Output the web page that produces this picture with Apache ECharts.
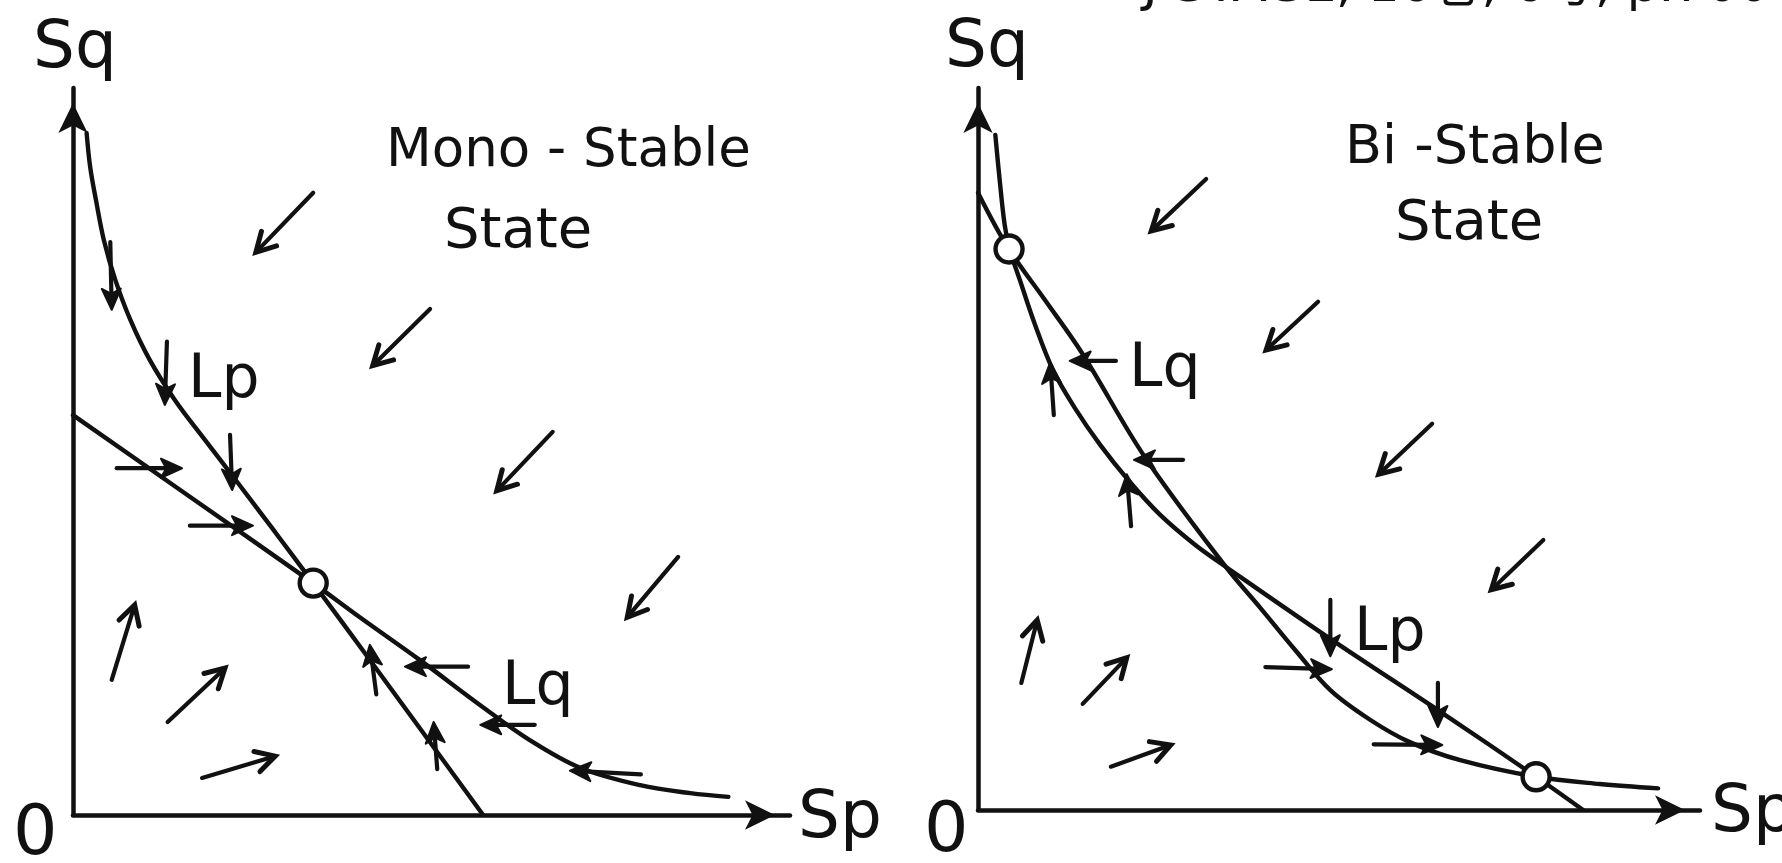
<!DOCTYPE html>
<html>
<head>
<meta charset="utf-8">
<script src="https://cdn.jsdelivr.net/npm/echarts@6/dist/echarts.min.js"></script>
<style>
html,body{margin:0;padding:0;background:#fff;}
#chart{width:1782px;height:863px;}
</style>
</head>
<body>
<div id="chart"></div>
<script>
// ---------- Data (axis units 0..100 in each panel) ----------
// Mono-stable panel
const monoLp = [[1.9,93.8],[2.4,89.1],[3.2,84.6],[4.3,79.1],[5.9,73.6],[8.0,68.1],[10.7,62.6],[14.2,57.1],[18.4,51.6],[22.9,45.8],[28.2,38.9],[33.5,31.9],[42.1,20.4],[57.2,0]];
const monoLq = [[0,55.0],[16.7,43.5],[33.5,31.9],[40.0,27.2],[48.4,21.3],[56.8,15.1],[63.7,10.3],[70.7,6.5],[79.1,4.1],[86.1,3.0],[91.4,2.5]];
const monoFixedPoints = [[33.5,31.9]];
// [tailX, tailY, headX, headY]
const monoFieldArrows = [[33.5,85.6,25.5,77.4],[49.8,69.6,41.8,61.8],[66.9,52.7,59.1,44.6],[84.4,35.5,77.3,27.2],[5.4,18.6,8.6,28.9],[13.2,12.8,21.2,20.2],[18.0,5.1,28.2,8.1]];
const monoLpArrows = [[5.2,78.8,5.4,69.5],[13.1,65.1,12.8,56.4],[21.9,52.3,22.2,44.7],[42.3,16.6,41.4,23.4],[50.8,6.3,50.3,12.8]];
const monoLqArrows = [[6.1,47.7,15.2,47.7],[16.3,39.8,25.1,39.8],[55.1,20.4,46.3,20.4],[64.4,12.4,56.8,12.4],[79.2,5.6,69.3,6.1]];

// Bi-stable panel
const biLq = [[0,85.5],[4.2,77.8],[9.3,70.6],[14.4,63.3],[23.1,48.9],[34.3,33.7],[39.1,28.0],[43.9,22.2],[48.8,16.6],[54.3,12.5],[59.8,9.4],[66.8,6.9],[77.3,4.6],[86.1,3.6],[94.2,3.0]];
const biLp = [[2.4,93.5],[3.0,87.3],[3.7,81.0],[4.4,77.6],[5.8,73.4],[7.9,67.2],[10.4,60.9],[13.4,55.7],[16.9,50.6],[20.8,45.7],[25.2,40.9],[30.1,36.7],[34.3,33.7],[48.8,23.7],[63.9,13.7],[77.3,4.6],[83.8,0]];
const biFixedPoints = [[4.3,77.7],[77.3,4.6]];
const biFieldArrows = [[31.6,87.4,24.0,80.2],[47.1,70.4,39.9,63.7],[62.9,53.5,55.5,46.5],[78.3,37.4,71.1,30.5],[6.0,17.6,8.2,26.3],[14.5,14.7,20.6,21.1],[18.4,6.0,26.7,9.0]];
const biLpArrows = [[10.5,54.7,10.0,62.0],[21.2,39.3,20.6,46.5],[48.8,29.1,48.8,21.3],[63.7,17.6,63.7,11.5]];
const biLqArrows = [[19.1,62.2,12.7,62.2],[28.4,48.5,21.6,48.5],[39.8,19.8,49.0,19.5],[54.8,9.1,64.3,9.0]];

// Text
const headerText = 'J-STAGE, 16巻, 6号, p.700';
const monoTitle = ['Mono - Stable', 'State'];
const biTitle = ['Bi -Stable', 'State'];
const axisNames = {y: 'Sq', x: 'Sp', origin: '0'};
const curveNames = {p: 'Lp', q: 'Lq'};

// ---------- Rendering ----------
const INK = '#111';
const FONT = "'DejaVu Sans', 'Noto Sans CJK JP', sans-serif";

function arrowRenderer(kind) {
  return function (params, api) {
    const p1 = api.coord([api.value(0), api.value(1)]);
    const p2 = api.coord([api.value(2), api.value(3)]);
    const dx = p2[0] - p1[0], dy = p2[1] - p1[1];
    const len = Math.hypot(dx, dy) || 1;
    const ux = dx / len, uy = dy / len, nx = -uy, ny = ux;
    const L = kind === 'field' ? 19 : 21;
    const W = kind === 'field' ? 10.5 : 9.5;
    const bx = p2[0] - ux * L, by = p2[1] - uy * L;
    const left = [bx + nx * W, by + ny * W], right = [bx - nx * W, by - ny * W];
    const back = kind === 'field' ? 3 : 10;
    const children = [{
      type: 'line',
      shape: {x1: p1[0], y1: p1[1], x2: p2[0] - ux * back, y2: p2[1] - uy * back},
      style: {stroke: INK, lineWidth: 4.2, lineCap: 'round'}
    }];
    if (kind === 'field') {
      children.push({type: 'polyline', shape: {points: [left, p2, right]},
        style: {stroke: INK, fill: null, lineWidth: 5, lineJoin: 'miter', lineCap: 'round'}});
    } else {
      const notch = [p2[0] - ux * L * 0.75, p2[1] - uy * L * 0.75];
      children.push({type: 'polygon', shape: {points: [p2, left, notch, right]},
        style: {fill: INK, stroke: INK, lineWidth: 2, lineJoin: 'round'}});
    }
    return {type: 'group', children: children};
  };
}

function axisPair(gi) {
  const axisLine = {show: true, onZero: false, symbol: ['none', 'arrow'], symbolSize: [22, 30], symbolOffset: [0, -15],
    lineStyle: {color: INK, width: 4.5}};
  const common = {gridIndex: gi, type: 'value', min: 0, max: 100, axisLine: axisLine,
    axisTick: {show: false}, axisLabel: {show: false}, splitLine: {show: false}};
  return [Object.assign({}, common), Object.assign({}, common)];
}
const [mx, my] = axisPair(0);
const [bx, by] = axisPair(1);

function curve(data, gi) {
  return {type: 'line', xAxisIndex: gi, yAxisIndex: gi, data: data, showSymbol: false, smooth: 0.35,
    lineStyle: {color: INK, width: 4.4, cap: 'round'}, silent: true, z: 3, animation: false};
}
function arrows(data, gi, kind) {
  return {type: 'custom', xAxisIndex: gi, yAxisIndex: gi, data: data, renderItem: arrowRenderer(kind),
    encode: {x: [0, 2], y: [1, 3]}, silent: true, z: 5, animation: false};
}
function fixed(data, gi) {
  return {type: 'scatter', xAxisIndex: gi, yAxisIndex: gi, data: data, symbol: 'circle', symbolSize: 27,
    itemStyle: {color: '#fff', borderColor: INK, borderWidth: 4.4, opacity: 1}, silent: true, z: 10, animation: false};
}

function txt(text, x, y, size) {
  return {type: 'text', x: x, y: y, silent: true,
    style: {text: text, font: size + 'px ' + FONT, fill: INK, align: 'left', verticalAlign: 'middle'}};
}

const option = {
  backgroundColor: '#fff',
  animation: false,
  grid: [
    {left: 73, top: 88, width: 717, height: 727},
    {left: 978, top: 88, width: 722, height: 722}
  ],
  xAxis: [mx, bx],
  yAxis: [my, by],
  series: [
    curve(monoLp, 0), curve(monoLq, 0),
    arrows(monoFieldArrows, 0, 'field'), arrows(monoLpArrows, 0, 'curve'), arrows(monoLqArrows, 0, 'curve'),
    fixed(monoFixedPoints, 0),
    curve(biLp, 1), curve(biLq, 1),
    arrows(biFieldArrows, 1, 'field'), arrows(biLpArrows, 1, 'curve'), arrows(biLqArrows, 1, 'curve'),
    fixed(biFixedPoints, 1)
  ],
  graphic: [
    txt(headerText, 1143, -12, 50),
    txt(axisNames.y, 33, 50, 66),
    txt(axisNames.y, 945, 49, 66),
    txt(axisNames.x, 798, 820, 66),
    txt(axisNames.x, 1711, 814, 66),
    txt(axisNames.origin, 13, 836, 70),
    txt(axisNames.origin, 924, 833, 70),
    txt(monoTitle[0], 386, 152, 53),
    txt(monoTitle[1], 444, 232, 56),
    txt(biTitle[0], 1345, 149, 54),
    txt(biTitle[1], 1395, 224, 56),
    txt(curveNames.p, 188, 381, 60),
    txt(curveNames.q, 502, 688, 60),
    txt(curveNames.q, 1129, 370, 60),
    txt(curveNames.p, 1354, 634, 60)
  ]
};

const chart = echarts.init(document.getElementById('chart'), null, {renderer: 'canvas'});
chart.setOption(option);
</script>
</body>
</html>
